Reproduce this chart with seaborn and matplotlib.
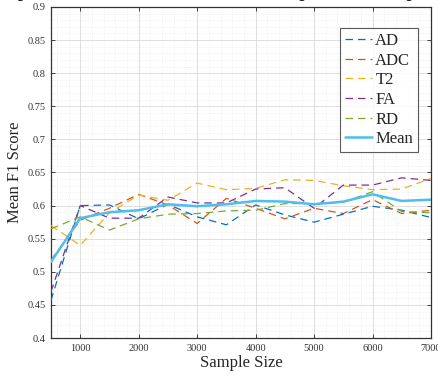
import matplotlib
matplotlib.use("Agg")
import matplotlib.pyplot as plt
import seaborn as sns
import numpy as np
import pandas as pd
from matplotlib.ticker import MultipleLocator, FixedLocator

sample_sizes = [500, 1000, 1500, 2000, 2500, 3000, 3500, 4000, 4500, 5000, 5500, 6000, 6500, 7000]
ad   = [0.457, 0.600, 0.601, 0.580, 0.602, 0.583, 0.571, 0.601, 0.586, 0.575, 0.587, 0.599, 0.593, 0.582]
adc  = [0.518, 0.578, 0.596, 0.617, 0.601, 0.573, 0.611, 0.596, 0.580, 0.596, 0.588, 0.609, 0.588, 0.593]
t2   = [0.570, 0.540, 0.589, 0.616, 0.608, 0.634, 0.624, 0.626, 0.639, 0.638, 0.630, 0.624, 0.625, 0.641]
fa   = [0.470, 0.600, 0.581, 0.581, 0.613, 0.604, 0.604, 0.625, 0.627, 0.596, 0.631, 0.631, 0.642, 0.638]
rd   = [0.565, 0.583, 0.563, 0.580, 0.587, 0.588, 0.592, 0.593, 0.603, 0.603, 0.605, 0.621, 0.591, 0.589]
mean = [0.515, 0.581, 0.590, 0.593, 0.602, 0.599, 0.602, 0.607, 0.606, 0.602, 0.606, 0.617, 0.607, 0.609]

series_names = ["AD", "ADC", "T2", "FA", "RD", "Mean"]
series_values = [ad, adc, t2, fa, rd, mean]
colors = ["#0072BD", "#D95319", "#EDB120", "#7E2F8E", "#77AC30", "#4DBEEE"]

title_text = "Comparison of Mean F1 Scores with Sample Size for Input Imaging"
x_label = "Sample Size"
y_label = "Mean F1 Score"
x_ticks = [1000, 2000, 3000, 4000, 5000, 6000, 7000]
y_ticks = [0.4, 0.45, 0.5, 0.55, 0.6, 0.65, 0.7, 0.75, 0.8, 0.85, 0.9]
y_tick_labels = ["0.4", "0.45", "0.5", "0.55", "0.6", "0.65", "0.7", "0.75", "0.8", "0.85", "0.9"]

sns.set_style("white")
plt.rcParams['font.family'] = ['Liberation Serif', 'DejaVu Serif']

fig = plt.figure(figsize=(4.39, 3.80), dpi=100)
ax = fig.add_axes([51/439, 1-338/380, 380/439, 331/380])

for name, vals, col in zip(series_names, series_values, colors):
    if name == "Mean":
        sns.lineplot(x=sample_sizes, y=vals, ax=ax, color=col, linewidth=1.8,
                     linestyle="-", label=name, zorder=4)
    else:
        sns.lineplot(x=sample_sizes, y=vals, ax=ax, color=col, linewidth=0.9,
                     dashes=False, label=name, zorder=3)
        ax.lines[-1].set_dashes((6, 4))

ax.set_xlim(500, 7000)
ax.set_ylim(0.4, 0.9)
ax.xaxis.set_major_locator(FixedLocator(x_ticks))
ax.set_yticks(y_ticks)
ax.set_yticklabels(y_tick_labels)
ax.xaxis.set_minor_locator(MultipleLocator(200))
ax.yaxis.set_minor_locator(MultipleLocator(0.01))
ax.grid(True, which="major", color="#d9d9d9", linewidth=0.6, linestyle="-")
ax.grid(True, which="minor", color="#e8e8e8", linewidth=0.5, linestyle=":")
ax.set_axisbelow(True)

ax.tick_params(axis="both", which="major", direction="in", length=3, width=0.6,
               labelsize=7.5, labelcolor="#333333", top=True, right=True,
               bottom=True, left=True, pad=4)
ax.tick_params(axis="both", which="minor", length=0)
for s in ax.spines.values():
    s.set_visible(True)
    s.set_color("#333333")
    s.set_linewidth(0.9)

ax.set_xlabel(x_label, fontsize=12, labelpad=2)
ax.set_ylabel(y_label, fontsize=12, labelpad=3)
ax.set_title(title_text, fontsize=13, fontweight="bold", pad=7.3)

leg = ax.legend(loc="upper right", bbox_to_anchor=(0.966, 0.937), borderaxespad=0,
                fontsize=12, frameon=True, fancybox=False, edgecolor="#333333",
                handlelength=1.6, handletextpad=0.2, labelspacing=0.22,
                borderpad=0.3)
leg.get_frame().set_linewidth(0.8)

fig.savefig("out.png", dpi=100, facecolor="white")
